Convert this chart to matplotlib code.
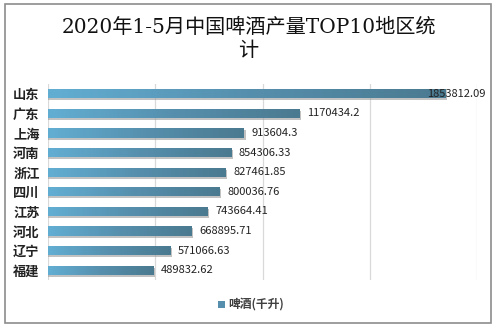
import numpy as np
import matplotlib.pyplot as plt
from matplotlib.colors import LinearSegmentedColormap
from matplotlib.patches import Rectangle

plt.rcParams['font.family'] = ['Noto Sans CJK SC', 'DejaVu Sans']

# data
regions = ['山东', '广东', '上海', '河南', '浙江', '四川', '江苏', '河北', '辽宁', '福建']
values = [1853812.09, 1170434.2, 913604.3, 854306.33, 827461.85,
          800036.76, 743664.41, 668895.71, 571066.63, 489832.62]
labels = ['1853812.09', '1170434.2', '913604.3', '854306.33', '827461.85',
          '800036.76', '743664.41', '668895.71', '571066.63', '489832.62']

W, H = 497, 327
fig = plt.figure(figsize=(W / 100, H / 100), dpi=100)

# outer frame
fig.patches.append(Rectangle((5 / W, 4 / H), 486 / W, 319 / H, transform=fig.transFigure,
                             fill=False, edgecolor='#8c8c8c', linewidth=1.2))

fig.text(0.5, 1 - 39 / H, '2020年1-5月中国啤酒产量TOP10地区统\n计', ha='center', va='center',
         fontsize=14.5, linespacing=1.25, color='#111111',
         family=['DejaVu Serif', 'Noto Sans CJK SC'])

ax = fig.add_axes([48 / W, 1 - 280 / H, (477 - 48) / W, (280 - 84) / H])
ax.set_xlim(0, 2000000)
y = np.arange(len(regions))
ax.set_xticks([0, 500000, 1000000, 1500000, 2000000])
ax.xaxis.grid(True, color='#d9d9d9', linewidth=0.9)
ax.set_axisbelow(True)
ax.tick_params(axis='x', length=0, labelbottom=False)
ax.tick_params(axis='y', length=0, pad=6)
for s in ax.spines.values():
    s.set_visible(False)
ax.set_yticks(y)
ax.set_yticklabels(regions, fontsize=9.5, fontweight='bold', color='#222222')

cmap = LinearSegmentedColormap.from_list('bar', ['#62AED3', '#568FAD', '#4A7A90'])
grad = np.linspace(0, 1, 256).reshape(1, -1)
h = 0.47
for yi, v, lab in zip(y, values, labels):
    # shadow
    ax.add_patch(Rectangle((0, yi - h / 2 + 0.1), v + 8000, h, facecolor='#9a9a9a',
                           edgecolor='none', alpha=0.6, zorder=2))
    bar = ax.barh(yi, v, height=h, color='#568FAD', zorder=3)[0]
    im = ax.imshow(grad, cmap=cmap, aspect='auto', zorder=4,
                   extent=[0, v, yi + h / 2, yi - h / 2])
    im.set_clip_path(bar)
    if v > 1700000:
        # no room on the right, label sits over the bar end
        ax.text(2042000, yi, lab, va='center', ha='right', fontsize=8,
                color='#222222', zorder=5, clip_on=False)
    else:
        ax.text(v + 36000, yi, lab, va='center', ha='left', fontsize=8,
                color='#222222', zorder=5)
ax.set_xlim(0, 2000000)
ax.set_ylim(len(regions) - 0.5, -0.5)

# legend
fig.patches.append(Rectangle((218 / W, 1 - 308 / H), 7 / W, 7 / H, transform=fig.transFigure,
                             facecolor='#568FAD', edgecolor='none'))
fig.text(228 / W, 1 - 304 / H, '啤酒(千升)', fontsize=8.5, fontweight='bold',
         color='#404040', va='center', ha='left')

fig.savefig('out.png', dpi=100)
